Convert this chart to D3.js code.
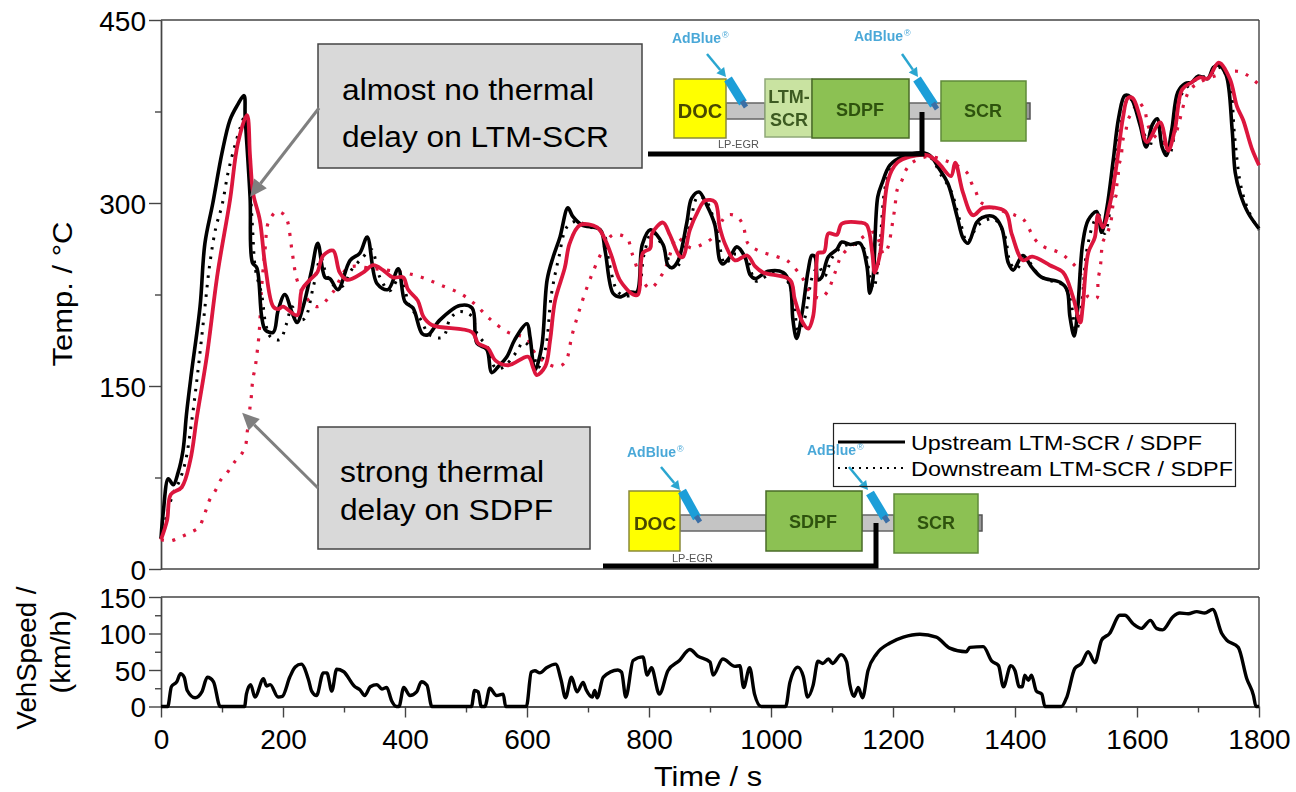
<!DOCTYPE html>
<html><head><meta charset="utf-8">
<script src="https://cdn.jsdelivr.net/npm/d3@7/dist/d3.min.js"></script>
<style>html,body{margin:0;padding:0;background:#fff}svg{display:block}text{font-family:"Liberation Sans",Arial,sans-serif;fill:#000}</style>
</head><body><div id="chart"></div>
<script>
const tempTicks=[0,150,300,450], tempMinor=[75,225,375];
const speedTicks=[0,50,100,150], speedMinor=[25,75,125];
const timeTicks=[0,200,400,600,800,1000,1200,1400,1600,1800], timeMinor=[100,300,500,700,900,1100,1300,1500,1700];
const legendLabels=["Upstream LTM-SCR / SDPF","Downstream LTM-SCR / SDPF"];

const upstreamBlack=[[0,25],[4,48],[12,74],[20,69],[28,79],[36,97],[42,128],[50,161],[64,215],[72,267],[85,300],[100,341],[113,368],[125,380],[136,388],[138,370],[146,305],[150,251],[157,247],[165,207],[171,196],[184,194],[192,212],[203,225],[215,210],[223,202],[233,215],[247,245],[257,267],[269,239],[277,238],[290,229],[310,253],[326,259],[338,272],[354,234],[372,229],[389,246],[400,219],[413,214],[428,193],[438,192],[457,204],[490,216],[510,214],[518,185],[534,180],[542,161],[553,166],[567,174],[580,188],[600,201],[605,190],[613,163],[624,182],[633,237],[643,256],[654,272],[667,296],[675,289],[690,282],[720,278],[728,261],[741,226],[752,223],[769,227],[780,227],[789,266],[802,278],[823,266],[831,249],[838,247],[848,253],[862,284],[870,304],[882,309],[895,298],[908,282],[916,253],[921,250],[933,256],[944,264],[957,256],[966,241],[974,238],[995,244],[1020,243],[1031,234],[1036,204],[1042,189],[1051,210],[1061,245],[1067,257],[1072,256],[1077,237],[1083,239],[1094,256],[1108,262],[1116,268],[1130,266],[1146,267],[1157,249],[1162,226],[1167,237],[1175,305],[1182,316],[1195,331],[1216,338],[1257,340],[1277,327],[1290,316],[1305,289],[1315,271],[1323,267],[1337,284],[1346,288],[1364,289],[1378,280],[1389,251],[1397,245],[1413,257],[1428,247],[1444,239],[1474,235],[1485,229],[1490,207],[1497,191],[1503,215],[1511,267],[1520,286],[1534,293],[1542,276],[1551,297],[1561,335],[1570,370],[1580,388],[1589,387],[1605,364],[1615,346],[1625,364],[1633,369],[1641,346],[1648,339],[1657,360],[1667,391],[1679,398],[1690,399],[1700,404],[1716,402],[1725,411],[1734,413],[1746,405],[1756,360],[1761,325],[1769,308],[1782,292],[1800,279]];
const downstreamBlack=[[0,25],[10,45],[20,62],[30,72],[40,88],[50,120],[60,160],[70,205],[80,250],[90,280],[100,298],[110,325],[120,345],[130,362],[138,372],[143,340],[150,280],[155,245],[165,225],[172,200],[180,190],[195,188],[205,200],[215,215],[225,205],[235,205],[250,232],[262,255],[272,240],[285,232],[298,232],[312,245],[330,255],[345,262],[358,240],[375,228],[392,240],[408,215],[425,205],[440,192],[462,190],[474,205],[489,211],[510,207],[518,193],[535,182],[548,165],[560,165],[583,178],[594,186],[608,180],[618,165],[630,180],[640,225],[652,255],[665,280],[680,285],[700,281],[725,275],[735,250],[748,228],[760,224],[780,226],[792,258],[805,276],[825,262],[840,246],[852,252],[868,285],[880,305],[892,303],[910,280],[925,250],[940,258],[960,254],[975,236],[1000,242],[1020,241],[1035,225],[1045,195],[1055,205],[1068,240],[1078,248],[1088,240],[1100,255],[1120,265],[1150,264],[1162,240],[1168,230],[1176,250],[1188,315],[1200,330],[1225,338],[1257,339],[1280,322],[1295,310],[1310,285],[1322,268],[1340,282],[1365,287],[1382,275],[1393,250],[1402,246],[1418,255],[1432,245],[1448,238],[1478,233],[1490,222],[1500,195],[1508,212],[1518,262],[1530,285],[1538,290],[1547,275],[1556,295],[1566,335],[1575,368],[1586,386],[1595,382],[1610,360],[1620,345],[1630,362],[1640,362],[1646,345],[1653,340],[1662,358],[1672,388],[1684,396],[1700,402],[1720,405],[1735,411],[1750,402],[1760,355],[1768,320],[1776,303],[1788,288],[1800,278]];
const upstreamRed=[[0,24],[10,40],[16,61],[34,67],[48,89],[59,125],[75,174],[93,243],[113,302],[126,349],[141,372],[146,338],[151,308],[162,286],[171,248],[184,215],[192,213],[200,215],[223,208],[231,229],[244,237],[256,243],[266,257],[282,261],[293,243],[305,237],[331,243],[348,249],[364,245],[380,239],[397,239],[405,229],[421,220],[430,207],[444,200],[510,194],[520,185],[536,181],[548,171],[569,167],[602,174],[610,165],[616,159],[630,166],[638,188],[646,220],[662,247],[670,267],[687,282],[715,280],[728,270],[739,256],[752,237],[774,225],[782,225],[790,259],[802,263],[805,275],[823,284],[834,274],[851,256],[856,256],[867,278],[880,293],[892,302],[908,301],[916,280],[925,266],[941,253],[961,257],[974,248],[987,243],[1031,237],[1039,221],[1052,202],[1061,197],[1069,207],[1075,253],[1077,259],[1087,260],[1094,275],[1108,274],[1116,283],[1146,284],[1157,282],[1166,259],[1170,243],[1179,259],[1192,319],[1207,333],[1228,338],[1257,339],[1274,333],[1295,322],[1302,333],[1315,308],[1331,290],[1348,296],[1384,293],[1395,274],[1413,253],[1428,256],[1457,249],[1479,243],[1495,223],[1507,202],[1511,215],[1520,259],[1531,272],[1536,290],[1544,280],[1556,300],[1567,333],[1577,370],[1585,386],[1593,386],[1605,370],[1616,350],[1638,366],[1651,343],[1662,360],[1674,393],[1690,399],[1703,403],[1716,402],[1734,415],[1752,402],[1764,379],[1774,368],[1788,345],[1800,331]];
const downstreamRed=[[0,24],[15,23],[31,26],[48,30],[62,34],[70,43],[75,50],[80,57],[90,65],[98,73],[110,80],[121,88],[133,95],[139,102],[141,111],[143,118],[146,133],[148,141],[149,148],[151,157],[154,164],[157,175],[161,194],[165,231],[171,264],[176,284],[190,293],[203,290],[208,284],[215,260],[223,237],[233,226],[256,215],[282,227],[307,247],[350,246],[397,243],[428,239],[457,233],[490,226],[515,217],[539,205],[569,194],[583,192],[600,189],[608,181],[618,174],[646,166],[662,169],[674,192],[687,214],[703,237],[723,260],[741,274],[764,271],[772,259],[789,237],[802,230],[821,241],[829,249],[846,272],[856,268],[870,263],[887,266],[903,271],[928,290],[944,289],[954,282],[962,267],[979,261],[1010,256],[1026,253],[1051,239],[1064,227],[1080,222],[1092,227],[1105,243],[1116,257],[1143,269],[1157,274],[1170,276],[1185,258],[1192,264],[1198,280],[1203,296],[1207,311],[1215,319],[1220,326],[1231,333],[1257,338],[1290,334],[1321,325],[1329,316],[1336,309],[1343,301],[1364,296],[1400,290],[1413,287],[1423,279],[1430,272],[1444,265],[1474,259],[1489,253],[1501,247],[1510,239],[1520,223],[1534,222],[1536,237],[1539,245],[1541,253],[1542,261],[1544,268],[1551,275],[1557,284],[1561,299],[1566,307],[1567,315],[1569,321],[1570,330],[1574,338],[1577,352],[1582,360],[1585,368],[1593,375],[1602,383],[1613,375],[1616,368],[1621,360],[1633,353],[1651,348],[1662,355],[1667,362],[1675,378],[1680,386],[1687,393],[1703,399],[1733,405],[1764,408],[1780,405],[1800,397]];
const vehSpeed=[[0,0],[11,0],[17,27],[26,34],[32,45],[38,40],[43,22],[56,12],[67,20],[76,40],[86,34],[97,0],[137,0],[140,17],[147,30],[154,13],[168,38],[173,28],[179,30],[192,13],[199,14],[211,40],[220,54],[230,58],[242,36],[247,21],[255,15],[266,46],[272,46],[280,21],[288,51],[299,48],[318,27],[326,23],[334,15],[343,27],[354,30],[362,24],[370,26],[378,8],[386,0],[390,0],[398,26],[408,15],[419,20],[427,34],[436,29],[444,0],[509,0],[514,22],[520,20],[525,0],[531,0],[539,25],[550,15],[561,17],[565,0],[599,0],[607,47],[613,49],[621,46],[632,53],[647,58],[656,36],[663,12],[673,40],[682,20],[692,33],[697,23],[707,13],[711,22],[715,12],[725,40],[749,50],[755,47],[762,13],[774,63],[790,68],[797,43],[804,53],[817,17],[831,49],[850,63],[867,78],[880,69],[900,61],[905,43],[921,65],[941,55],[949,56],[955,26],[965,53],[973,17],[984,0],[1024,0],[1031,33],[1044,54],[1053,41],[1060,13],[1069,29],[1077,62],[1085,59],[1094,65],[1101,59],[1115,71],[1124,61],[1129,31],[1136,14],[1143,26],[1150,12],[1159,49],[1173,72],[1195,87],[1217,95],[1244,99],[1271,95],[1293,80],[1320,75],[1326,81],[1348,82],[1362,62],[1373,56],[1381,27],[1393,56],[1400,49],[1407,27],[1412,27],[1416,43],[1422,36],[1427,43],[1435,21],[1444,17],[1449,0],[1476,0],[1485,13],[1498,52],[1509,59],[1520,75],[1531,60],[1542,91],[1555,100],[1572,125],[1580,125],[1594,113],[1607,107],[1622,118],[1632,107],[1642,105],[1659,123],[1670,128],[1684,127],[1698,130],[1711,128],[1724,133],[1739,100],[1747,91],[1766,81],[1780,38],[1791,15],[1795,0],[1800,0]];

const W=1296,H=792, L=161,R=1259, T1=20,B1=569, T2=597,B2=706.5;
const RED="#dc143c", AX="#444";
const svg=d3.select("#chart").append("svg").attr("width",W).attr("height",H);
const x=d3.scaleLinear().domain([0,1800]).range([L,R]);
const y=d3.scaleLinear().domain([0,450]).range([B1,T1]);
const v=d3.scaleLinear().domain([0,150]).range([B2,T2]);
const defs=svg.append("defs");
defs.append("filter").attr("id","soft").append("feGaussianBlur").attr("stdDeviation",0.7);
defs.append("filter").attr("id","softer").append("feGaussianBlur").attr("stdDeviation",0.35);

function leftAxis(scale,major,minor){
  const g=svg.append("g").attr("transform",`translate(${L},0)`);
  g.call(d3.axisLeft(scale).tickValues(minor).tickSize(6).tickFormat("").tickSizeOuter(0));
  const m=svg.append("g").attr("transform",`translate(${L},0)`);
  m.call(d3.axisLeft(scale).tickValues(major).tickSize(12).tickSizeOuter(0).tickFormat(d3.format("d")).tickPadding(3));
  [g,m].forEach(s=>{s.selectAll("path,line").attr("stroke",AX).attr("stroke-width",1.4);});
  m.selectAll("text").attr("font-size",28).attr("dy","0.36em");
}
[[L,R,T1,T1],[R,R,T1,B1],[L,R,B1,B1],[L,R,T2,T2],[R,R,T2,B2]].forEach(s=>svg.append("line").attr("x1",s[0]).attr("x2",s[1]).attr("y1",s[2]).attr("y2",s[3]).attr("stroke",AX).attr("stroke-width",1.4));
leftAxis(y,tempTicks,tempMinor);
leftAxis(v,speedTicks,speedMinor);
const gx0=svg.append("g").attr("transform",`translate(0,${B2})`).call(d3.axisBottom(x).tickValues(timeMinor).tickSize(6).tickFormat("").tickSizeOuter(0));
const gx=svg.append("g").attr("transform",`translate(0,${B2})`).call(d3.axisBottom(x).tickValues(timeTicks).tickSize(11).tickSizeOuter(0).tickFormat(d3.format("d")).tickPadding(12));
[gx0,gx].forEach(s=>s.selectAll("path,line").attr("stroke",AX).attr("stroke-width",1.4));
gx.selectAll("text").attr("font-size",28);

const lineT=d3.line().x(d=>x(d[0])).y(d=>y(d[1])).curve(d3.curveCatmullRom.alpha(0.5));
const lineV=d3.line().x(d=>x(d[0])).y(d=>v(d[1])).curve(d3.curveMonotoneX);
const plotDefs=[[downstreamBlack,"#000",3,"2.5 7"],[downstreamRed,RED,3.2,"3 8.5"],[upstreamBlack,"#000",3.6,null],[upstreamRed,RED,3.8,null]];
const curves=svg.append("g").attr("filter","url(#softer)");
plotDefs.forEach(([d,c,w,da])=>curves.append("path").datum(d).attr("d",lineT).attr("fill","none").attr("stroke",c).attr("stroke-width",w).attr("stroke-dasharray",da).attr("stroke-linejoin","round"));
curves.append("path").datum(vehSpeed).attr("d",lineV).attr("fill","none").attr("stroke","#000").attr("stroke-width",3.4).attr("stroke-linejoin","round");

function fitText(str,xp,yp,size,len,anchor,col){
  const t=svg.append("text").attr("x",xp).attr("y",yp).attr("font-size",size).text(str);
  if(len) t.attr("textLength",len).attr("lengthAdjust","spacingAndGlyphs");
  if(anchor) t.attr("text-anchor",anchor);
  if(col) t.style("fill",col);
  return t;
}
function rotText(str,cx,cy,size,len){
  svg.append("text").attr("transform",`translate(${cx},${cy}) rotate(-90)`).attr("text-anchor","middle").attr("font-size",size).attr("textLength",len).attr("lengthAdjust","spacingAndGlyphs").text(str);
}
fitText("Time / s",708,786,28,108,"middle");
rotText("Temp. / °C",72,294,28,145);
rotText("VehSpeed /",36,658,28,143);
rotText("(km/h)",70,652,28,83);

[[318,44,324,124],[318,427,272,122]].forEach(b=>svg.append("rect").attr("x",b[0]).attr("y",b[1]).attr("width",b[2]).attr("height",b[3]).attr("fill","#d9d9d9").attr("stroke",AX).attr("stroke-width",1.5));
fitText("almost no thermal",342,100,30,252);
fitText("delay on LTM-SCR",342,147,30,267);
fitText("strong thermal",340,482,30,204);
fitText("delay on SDPF",340,520,30,213);

function arrow(x1,y1,x2,y2,col,w,hl,hw,g){
  const a=Math.atan2(y2-y1,x2-x1),bx=x2-hl*Math.cos(a),by=y2-hl*Math.sin(a);
  const s=(g||svg);
  s.append("line").attr("x1",x1).attr("y1",y1).attr("x2",bx).attr("y2",by).attr("stroke",col).attr("stroke-width",w);
  s.append("path").attr("fill",col).attr("d",`M${x2},${y2}L${bx+hw*Math.sin(a)},${by-hw*Math.cos(a)}L${bx-hw*Math.sin(a)},${by+hw*Math.cos(a)}Z`);
}
arrow(319,108,x(146),y(305),"#7f7f7f",3,17,8);
arrow(318,488,x(133),y(128),"#7f7f7f",3,17,8);

const dg=svg.append("g").attr("filter","url(#soft)");
function box(xp,yp,w,h,fill,stroke){dg.append("rect").attr("x",xp).attr("y",yp).attr("width",w).attr("height",h).attr("fill",fill).attr("stroke",stroke).attr("stroke-width",1.5);}
function label(s,xp,yp,size,col,anchor,weight){const t=dg.append("text").attr("x",xp).attr("y",yp).attr("font-size",size).text(s).style("fill",col);if(anchor)t.attr("text-anchor",anchor);if(weight)t.attr("font-weight",weight);return t;}
function injector(x0,y0,x1,y1){
  dg.append("line").attr("x1",x0).attr("y1",y0).attr("x2",x1).attr("y2",y1).attr("stroke","#1b9ed8").attr("stroke-width",9);
  dg.append("line").attr("x1",x1-1).attr("y1",y1-2).attr("x2",x1+3).attr("y2",y1+4).attr("stroke","#3a6ea5").attr("stroke-width",5);
}
function adBlue(xp,yp){
  label("AdBlue",xp,yp,14,"#4aa8d8",null,"bold");
  label("®",xp+50,yp-5,9,"#4aa8d8");
}
const GREEN="#8cc152",GS="#4a6b2a",DT="#2f5210",YS="#8a8a3a";
box(726,103,39,16,"#c4c4c4","#666");box(909,103,32,16,"#c4c4c4","#666");box(1026,103,4,16,"#999","#555");
box(674,79,52,59,"#ffff00",YS);box(765,79,47,58,"#c9e3a1","#8fa878");box(812,79,97,59,GREEN,GS);box(941,81,85,60,GREEN,"#5f8a3a");
label("DOC",700,118,20,"#4a4a00","middle","bold");label("LTM-",789,103,18,"#3c5a20","middle","bold");label("SCR",789,126,18,"#3c5a20","middle","bold");label("SDPF",860,116,18,DT,"middle","bold");label("SCR",983,117,18,DT,"middle","bold");
adBlue(672,43);adBlue(854,41);
arrow(707,54,726,77,"#2aa6d0",2.5,9,5,dg);arrow(902,54,918,77,"#2aa6d0",2.5,9,5,dg);
injector(728,79,743,103);injector(917,79,934,105);
label("LP-EGR",718,148,11,"#555");
box(680,515,86,16,"#c4c4c4","#666");box(862,515,32,16,"#c4c4c4","#666");box(978,515,4,16,"#999","#555");
box(629,491,51,60,"#ffff00",YS);box(766,491,96,60,GREEN,GS);box(894,494,84,59,GREEN,"#5f8a3a");
label("DOC",655,530,19,"#4a4a00","middle","bold");label("SDPF",813,528,18,DT,"middle","bold");label("SCR",936,529,18,DT,"middle","bold");
adBlue(627,457);
arrow(661,467,680,490,"#2aa6d0",2.5,9,5,dg);arrow(849,467,868,490,"#2aa6d0",2.5,9,5,dg);
injector(682,491,697,518);injector(870,493,885,518);
label("LP-EGR",672,562,11,"#555");
adBlue(807,455);
svg.append("path").attr("d","M648,154H922V112").attr("fill","none").attr("stroke","#000").attr("stroke-width",5);
svg.append("path").attr("d","M603,566H876V523").attr("fill","none").attr("stroke","#000").attr("stroke-width",5);

svg.append("rect").attr("x",833.5).attr("y",423.5).attr("width",402).attr("height",63).attr("fill","none").attr("stroke","#222").attr("stroke-width",1.2);
svg.append("line").attr("x1",838).attr("x2",905).attr("y1",442).attr("y2",442).attr("stroke","#000").attr("stroke-width",3);
svg.append("line").attr("x1",838).attr("x2",905).attr("y1",468).attr("y2",468).attr("stroke","#000").attr("stroke-width",2).attr("stroke-dasharray","2 5");
fitText(legendLabels[0],911,450,20,291);
fitText(legendLabels[1],911,476,20,322);
</script></body></html>
